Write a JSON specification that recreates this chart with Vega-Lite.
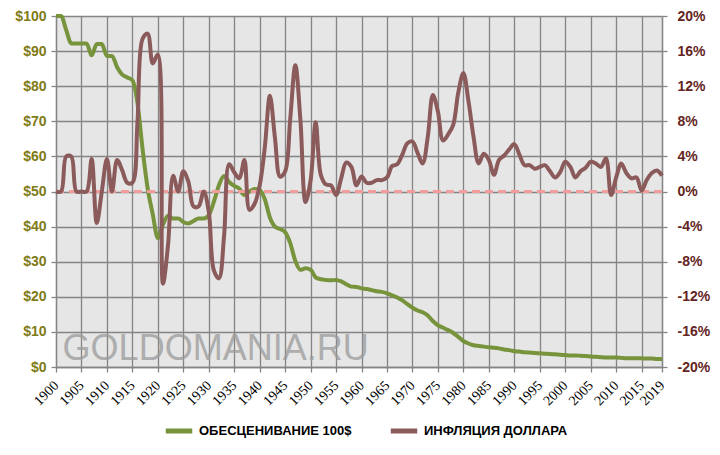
{
  "$schema": "https://vega.github.io/schema/vega-lite/v6.json",
  "width": 606,
  "height": 351,
  "autosize": "none",
  "padding": {"left": 56, "top": 16, "right": 58, "bottom": 88},
  "background": "white",
  "config": {
    "view": {"fill": "#e6e6e6", "stroke": null},
    "axis": {"gridColor": "#858585", "gridWidth": 1.3, "gridOpacity": 1, "tickColor": "#858585", "domainColor": "#858585", "tickSize": 5, "tickWidth": 1.3, "domainWidth": 1.3, "title": null}
  },
  "data": {
    "values": [
      {"year": 1900, "usd": 100, "infl": 0}, {"year": 1901, "usd": 100, "infl": 0},
      {"year": 1902, "usd": 96.0, "infl": 4}, {"year": 1903, "usd": 92.2, "infl": 4},
      {"year": 1904, "usd": 92.2, "infl": 0}, {"year": 1905, "usd": 92.2, "infl": 0},
      {"year": 1906, "usd": 92.2, "infl": 0}, {"year": 1907, "usd": 88.8, "infl": 3.7},
      {"year": 1908, "usd": 92.0, "infl": -3.6}, {"year": 1909, "usd": 92.0, "infl": 0},
      {"year": 1910, "usd": 88.6, "infl": 3.7}, {"year": 1911, "usd": 88.6, "infl": 0},
      {"year": 1912, "usd": 85.4, "infl": 3.6}, {"year": 1913, "usd": 83.3, "infl": 2.4},
      {"year": 1914, "usd": 82.5, "infl": 1.0}, {"year": 1915, "usd": 81.7, "infl": 1.0},
      {"year": 1916, "usd": 75.2, "infl": 7.9}, {"year": 1917, "usd": 62.1, "infl": 17.4},
      {"year": 1918, "usd": 50.9, "infl": 18.0}, {"year": 1919, "usd": 43.5, "infl": 14.6},
      {"year": 1920, "usd": 36.7, "infl": 15.6}, {"year": 1921, "usd": 40.6, "infl": -10.5},
      {"year": 1922, "usd": 43.1, "infl": -6.1}, {"year": 1923, "usd": 42.3, "infl": 1.8},
      {"year": 1924, "usd": 42.3, "infl": 0}, {"year": 1925, "usd": 41.3, "infl": 2.3},
      {"year": 1926, "usd": 40.9, "infl": 1.1}, {"year": 1927, "usd": 41.6, "infl": -1.7},
      {"year": 1928, "usd": 42.3, "infl": -1.7}, {"year": 1929, "usd": 42.3, "infl": 0},
      {"year": 1930, "usd": 43.2, "infl": -2.3}, {"year": 1931, "usd": 47.1, "infl": -9.0},
      {"year": 1932, "usd": 51.8, "infl": -9.9}, {"year": 1933, "usd": 54.4, "infl": -5.1},
      {"year": 1934, "usd": 52.7, "infl": 3.1}, {"year": 1935, "usd": 51.6, "infl": 2.2},
      {"year": 1936, "usd": 50.8, "infl": 1.5}, {"year": 1937, "usd": 49.0, "infl": 3.6},
      {"year": 1938, "usd": 50.0, "infl": -2.1}, {"year": 1939, "usd": 50.7, "infl": -1.4},
      {"year": 1940, "usd": 50.4, "infl": 0.7}, {"year": 1941, "usd": 47.8, "infl": 5.0},
      {"year": 1942, "usd": 42.6, "infl": 10.9}, {"year": 1943, "usd": 40.0, "infl": 6.1},
      {"year": 1944, "usd": 39.3, "infl": 1.7}, {"year": 1945, "usd": 38.4, "infl": 2.3},
      {"year": 1946, "usd": 35.3, "infl": 8.3}, {"year": 1947, "usd": 30.2, "infl": 14.4},
      {"year": 1948, "usd": 27.7, "infl": 8.1}, {"year": 1949, "usd": 28.1, "infl": -1.2},
      {"year": 1950, "usd": 27.7, "infl": 1.3}, {"year": 1951, "usd": 25.5, "infl": 7.9},
      {"year": 1952, "usd": 25.0, "infl": 1.9}, {"year": 1953, "usd": 24.8, "infl": 0.8},
      {"year": 1954, "usd": 24.7, "infl": 0.7}, {"year": 1955, "usd": 24.8, "infl": -0.4},
      {"year": 1956, "usd": 24.4, "infl": 1.5}, {"year": 1957, "usd": 23.6, "infl": 3.3},
      {"year": 1958, "usd": 22.9, "infl": 2.8}, {"year": 1959, "usd": 22.8, "infl": 0.7},
      {"year": 1960, "usd": 22.4, "infl": 1.7}, {"year": 1961, "usd": 22.2, "infl": 1.0},
      {"year": 1962, "usd": 21.9, "infl": 1.0}, {"year": 1963, "usd": 21.6, "infl": 1.3},
      {"year": 1964, "usd": 21.4, "infl": 1.3}, {"year": 1965, "usd": 21.0, "infl": 1.6},
      {"year": 1966, "usd": 20.4, "infl": 2.9}, {"year": 1967, "usd": 19.8, "infl": 3.1},
      {"year": 1968, "usd": 19.0, "infl": 4.2}, {"year": 1969, "usd": 17.9, "infl": 5.5},
      {"year": 1970, "usd": 16.9, "infl": 5.7}, {"year": 1971, "usd": 16.1, "infl": 4.4},
      {"year": 1972, "usd": 15.6, "infl": 3.2}, {"year": 1973, "usd": 14.7, "infl": 6.2},
      {"year": 1974, "usd": 13.1, "infl": 11.0}, {"year": 1975, "usd": 11.9, "infl": 9.1},
      {"year": 1976, "usd": 11.2, "infl": 5.8}, {"year": 1977, "usd": 10.5, "infl": 6.5},
      {"year": 1978, "usd": 9.7, "infl": 7.6}, {"year": 1979, "usd": 8.6, "infl": 11.3},
      {"year": 1980, "usd": 7.4, "infl": 13.5}, {"year": 1981, "usd": 6.7, "infl": 10.3},
      {"year": 1982, "usd": 6.2, "infl": 6.2}, {"year": 1983, "usd": 6.0, "infl": 3.2},
      {"year": 1984, "usd": 5.8, "infl": 4.3}, {"year": 1985, "usd": 5.6, "infl": 3.6},
      {"year": 1986, "usd": 5.5, "infl": 1.9}, {"year": 1987, "usd": 5.3, "infl": 3.6},
      {"year": 1988, "usd": 5.0, "infl": 4.1}, {"year": 1989, "usd": 4.8, "infl": 4.8},
      {"year": 1990, "usd": 4.5, "infl": 5.4}, {"year": 1991, "usd": 4.4, "infl": 4.2},
      {"year": 1992, "usd": 4.2, "infl": 3.0}, {"year": 1993, "usd": 4.1, "infl": 3.0},
      {"year": 1994, "usd": 4.0, "infl": 2.6}, {"year": 1995, "usd": 3.9, "infl": 2.8},
      {"year": 1996, "usd": 3.8, "infl": 3.0}, {"year": 1997, "usd": 3.7, "infl": 2.3},
      {"year": 1998, "usd": 3.6, "infl": 1.6}, {"year": 1999, "usd": 3.5, "infl": 2.2},
      {"year": 2000, "usd": 3.4, "infl": 3.4}, {"year": 2001, "usd": 3.3, "infl": 2.8},
      {"year": 2002, "usd": 3.3, "infl": 1.6}, {"year": 2003, "usd": 3.2, "infl": 2.3},
      {"year": 2004, "usd": 3.1, "infl": 2.7}, {"year": 2005, "usd": 3.0, "infl": 3.4},
      {"year": 2006, "usd": 2.9, "infl": 3.2}, {"year": 2007, "usd": 2.8, "infl": 2.8},
      {"year": 2008, "usd": 2.7, "infl": 3.8}, {"year": 2009, "usd": 2.7, "infl": -0.4},
      {"year": 2010, "usd": 2.7, "infl": 1.6}, {"year": 2011, "usd": 2.6, "infl": 3.2},
      {"year": 2012, "usd": 2.5, "infl": 2.1}, {"year": 2013, "usd": 2.5, "infl": 1.5},
      {"year": 2014, "usd": 2.5, "infl": 1.6}, {"year": 2015, "usd": 2.5, "infl": 0.1},
      {"year": 2016, "usd": 2.4, "infl": 1.3}, {"year": 2017, "usd": 2.4, "infl": 2.1},
      {"year": 2018, "usd": 2.3, "infl": 2.4}, {"year": 2019, "usd": 2.3, "infl": 1.8}
    ]
  },
  "layer": [
    {
      "data": {"values": [{"year": 1901.3, "v": 2, "t": "GOLDOMANIA.RU"}]},
      "mark": {"type": "text", "align": "left", "baseline": "alphabetic", "font": "Liberation Sans", "fontSize": 36, "color": "#9a9a9a", "opacity": 0.75},
      "encoding": {
        "x": {
          "field": "year", "type": "quantitative",
          "scale": {"domain": [1900, 2019], "nice": false, "zero": false},
          "axis": {
            "values": [1900, 1905, 1910, 1915, 1920, 1925, 1930, 1935, 1940, 1945, 1950, 1955, 1960, 1965, 1970, 1975, 1980, 1985, 1990, 1995, 2000, 2005, 2010, 2015, 2019],
            "format": "d", "grid": true, "labelAngle": -45, "labelAlign": "right", "labelBaseline": "middle", "labelFont": "Liberation Serif", "labelFontSize": 14, "labelColor": "#000000", "labelPadding": 11, "labelOverlap": false, "labelFlush": false
          }
        },
        "y": {"field": "v", "type": "quantitative", "scale": {"domain": [0, 100], "nice": false}, "axis": null},
        "text": {"field": "t"}
      }
    },
    {
      "mark": {"type": "line", "strokeWidth": 4, "interpolate": "monotone"},
      "encoding": {
        "x": {
          "field": "year", "type": "quantitative",
          "scale": {"domain": [1900, 2019], "nice": false, "zero": false},
          "axis": {
            "values": [1900, 1905, 1910, 1915, 1920, 1925, 1930, 1935, 1940, 1945, 1950, 1955, 1960, 1965, 1970, 1975, 1980, 1985, 1990, 1995, 2000, 2005, 2010, 2015, 2019],
            "format": "d", "grid": true, "labelAngle": -45, "labelAlign": "right", "labelBaseline": "middle", "labelFont": "Liberation Serif", "labelFontSize": 14, "labelColor": "#000000", "labelPadding": 11, "labelOverlap": false, "labelFlush": false
          }
        },
        "y": {
          "field": "usd", "type": "quantitative",
          "scale": {"domain": [0, 100], "nice": false},
          "axis": {
            "orient": "left", "values": [0, 10, 20, 30, 40, 50, 60, 70, 80, 90, 100], "grid": true,
            "labelExpr": "'$' + datum.value", "labelFont": "Liberation Sans", "labelFontWeight": "bold", "labelFontSize": 14, "labelColor": "#7f7b16", "labelPadding": 5
          }
        },
        "color": {
          "datum": "ОБЕСЦЕНИВАНИЕ 100$",
          "scale": {"domain": ["ОБЕСЦЕНИВАНИЕ 100$", "ИНФЛЯЦИЯ ДОЛЛАРА"], "range": ["#77933c", "#8b5b5b"]},
          "legend": {
            "orient": "none", "legendX": 107, "legendY": 399, "direction": "horizontal", "title": null,
            "symbolType": "stroke", "symbolSize": 700, "symbolStrokeWidth": 5,
            "labelFont": "Liberation Sans", "labelFontWeight": "bold", "labelFontSize": 13, "labelColor": "#000000",
            "labelOffset": 4, "columnPadding": 28
          }
        }
      }
    },
    {
      "data": {"values": [{"z": 0}]},
      "mark": {"type": "rule", "color": "#f29c9c", "strokeWidth": 3, "strokeDash": [8, 5]},
      "encoding": {
        "y": {"field": "z", "type": "quantitative", "scale": {"domain": [-20, 20], "nice": false}, "axis": null}
      }
    },
    {
      "mark": {"type": "line", "strokeWidth": 4, "interpolate": "catmull-rom"},
      "encoding": {
        "x": {
          "field": "year", "type": "quantitative",
          "scale": {"domain": [1900, 2019], "nice": false, "zero": false},
          "axis": {
            "values": [1900, 1905, 1910, 1915, 1920, 1925, 1930, 1935, 1940, 1945, 1950, 1955, 1960, 1965, 1970, 1975, 1980, 1985, 1990, 1995, 2000, 2005, 2010, 2015, 2019],
            "format": "d", "grid": true, "labelAngle": -45, "labelAlign": "right", "labelBaseline": "middle", "labelFont": "Liberation Serif", "labelFontSize": 14, "labelColor": "#000000", "labelPadding": 11, "labelOverlap": false, "labelFlush": false
          }
        },
        "y": {
          "field": "infl", "type": "quantitative",
          "scale": {"domain": [-20, 20], "nice": false},
          "axis": {
            "orient": "right", "values": [-20, -16, -12, -8, -4, 0, 4, 8, 12, 16, 20], "grid": false,
            "labelExpr": "datum.value + '%'", "labelFont": "Liberation Sans", "labelFontWeight": "bold", "labelFontSize": 14, "labelColor": "#632523", "labelPadding": 10
          }
        },
        "color": {"datum": "ИНФЛЯЦИЯ ДОЛЛАРА"}
      }
    }
  ],
  "resolve": {"scale": {"y": "independent"}}
}
